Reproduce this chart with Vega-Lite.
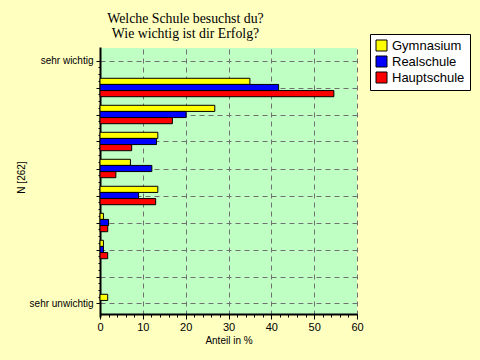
{
  "$schema": "https://vega.github.io/schema/vega-lite/v6.json",
  "width": 257,
  "height": 266,
  "autosize": {"type": "none"},
  "padding": {"left": 100, "top": 48, "right": 123, "bottom": 46},
  "background": "#ffffc0",
  "title": {
    "text": ["Welche Schule besuchst du?", "Wie wichtig ist dir Erfolg?"],
    "font": "Liberation Serif",
    "fontSize": 13.8,
    "fontWeight": "normal",
    "color": "black",
    "anchor": "middle",
    "dx": -43,
    "dy": 13,
    "offset": 6,
    "lineHeight": 15
  },
  "config": {
    "view": {"fill": "#c0ffc4", "stroke": null},
    "axis": {
      "labelFont": "Liberation Sans",
      "titleFont": "Liberation Sans",
      "labelFontSize": 10,
      "titleFontSize": 10,
      "labelColor": "black",
      "titleColor": "black",
      "titleFontWeight": "normal",
      "tickColor": "black",
      "domainColor": "black",
      "gridColor": "#707070",
      "gridDash": [5, 4],
      "labelOverlap": false,
      "labelFlush": false
    }
  },
  "datasets": {
    "shares": [
      {"level": 2, "school": "Gymnasium", "value": 35.0},
      {"level": 2, "school": "Realschule", "value": 41.7},
      {"level": 2, "school": "Hauptschule", "value": 54.6},
      {"level": 3, "school": "Gymnasium", "value": 26.8},
      {"level": 3, "school": "Realschule", "value": 20.1},
      {"level": 3, "school": "Hauptschule", "value": 16.9},
      {"level": 4, "school": "Gymnasium", "value": 13.5},
      {"level": 4, "school": "Realschule", "value": 13.2},
      {"level": 4, "school": "Hauptschule", "value": 7.4},
      {"level": 5, "school": "Gymnasium", "value": 7.1},
      {"level": 5, "school": "Realschule", "value": 12.1},
      {"level": 5, "school": "Hauptschule", "value": 3.7},
      {"level": 6, "school": "Gymnasium", "value": 13.5},
      {"level": 6, "school": "Realschule", "value": 9.0},
      {"level": 6, "school": "Hauptschule", "value": 13.0},
      {"level": 7, "school": "Gymnasium", "value": 0.8},
      {"level": 7, "school": "Realschule", "value": 2.0},
      {"level": 7, "school": "Hauptschule", "value": 1.8},
      {"level": 8, "school": "Gymnasium", "value": 0.8},
      {"level": 8, "school": "Realschule", "value": 0.8},
      {"level": 8, "school": "Hauptschule", "value": 1.8},
      {"level": 10, "school": "Gymnasium", "value": 1.8}
    ]
  },
  "layer": [
    {
      "data": {"name": "shares"},
      "mark": {"type": "bar", "stroke": "black", "strokeWidth": 1},
      "encoding": {
        "y": {
          "field": "level",
          "type": "ordinal",
          "scale": {"domain": [1, 2, 3, 4, 5, 6, 7, 8, 9, 10], "range": [-1, 269], "paddingInner": 0, "paddingOuter": 0},
          "axis": null
        },
        "yOffset": {
          "field": "school",
          "type": "nominal",
          "sort": ["Gymnasium", "Realschule", "Hauptschule"],
          "scale": {"paddingInner": 0, "paddingOuter": 0.7}
        },
        "x": {
          "field": "value",
          "type": "quantitative",
          "scale": {"domain": [0, 60], "nice": false, "zero": true},
          "axis": {
            "title": "Anteil in %",
            "grid": true,
            "values": [0, 2, 4, 6, 8, 10, 12, 14, 16, 18, 20, 22, 24, 26, 28, 30, 32, 34, 36, 38, 40, 42, 44, 46, 48, 50, 52, 54, 56, 58, 60],
            "labelExpr": "datum.value % 10 === 0 ? datum.label : ''",
            "labelFontSize": 11,
            "tickSize": {"condition": {"test": "datum.value % 10 === 0", "value": 5}, "value": 3},
            "gridOpacity": {"expr": "datum.value % 10 === 0 ? 1 : 0"},
            "domainWidth": 2,
            "labelPadding": 2,
            "titlePadding": 3
          }
        },
        "color": {
          "field": "school",
          "type": "nominal",
          "scale": {"domain": ["Gymnasium", "Realschule", "Hauptschule"], "range": ["#ffff00", "#0000ff", "#ff0000"]},
          "legend": {
            "title": null,
            "orient": "none",
            "legendX": 270,
            "legendY": -14,
            "fillColor": "white",
            "strokeColor": "black",
            "padding": 5,
            "symbolType": "square",
            "symbolSize": 121,
            "symbolStrokeColor": "black",
            "symbolStrokeWidth": 1,
            "symbolOpacity": 1,
            "labelFont": "Liberation Sans",
            "labelFontSize": 13,
            "labelColor": "black",
            "rowPadding": 1,
            "labelOffset": 4
          }
        }
      }
    },
    {
      "data": {"name": "shares"},
      "mark": {"type": "point", "opacity": 0},
      "encoding": {
        "y": {
          "datum": 1,
          "type": "quantitative",
          "scale": {"domain": [0.5, 10.5], "range": [-1, 269], "nice": false, "zero": false},
          "axis": {
            "orient": "left",
            "title": "N [262]",
            "grid": true,
            "values": [1, 1.25, 1.5, 1.75, 2, 2.25, 2.5, 2.75, 3, 3.25, 3.5, 3.75, 4, 4.25, 4.5, 4.75, 5, 5.25, 5.5, 5.75, 6, 6.25, 6.5, 6.75, 7, 7.25, 7.5, 7.75, 8, 8.25, 8.5, 8.75, 9, 9.25, 9.5, 9.75, 10],
            "labelExpr": "datum.value === 1 ? 'sehr wichtig' : (datum.value === 10 ? 'sehr unwichtig' : '')",
            "tickSize": {"condition": {"test": "datum.value % 1 === 0", "value": 4}, "value": 2},
            "gridOpacity": {"expr": "datum.value % 1 === 0 ? 1 : 0"},
            "domain": true,
            "domainWidth": 2,
            "labelPadding": 3,
            "titleAngle": -90,
            "titleX": -79,
            "titleY": 129,
            "titleAlign": "center",
            "titleBaseline": "middle"
          }
        }
      }
    }
  ],
  "resolve": {"scale": {"y": "independent"}, "axis": {"y": "independent"}}
}
